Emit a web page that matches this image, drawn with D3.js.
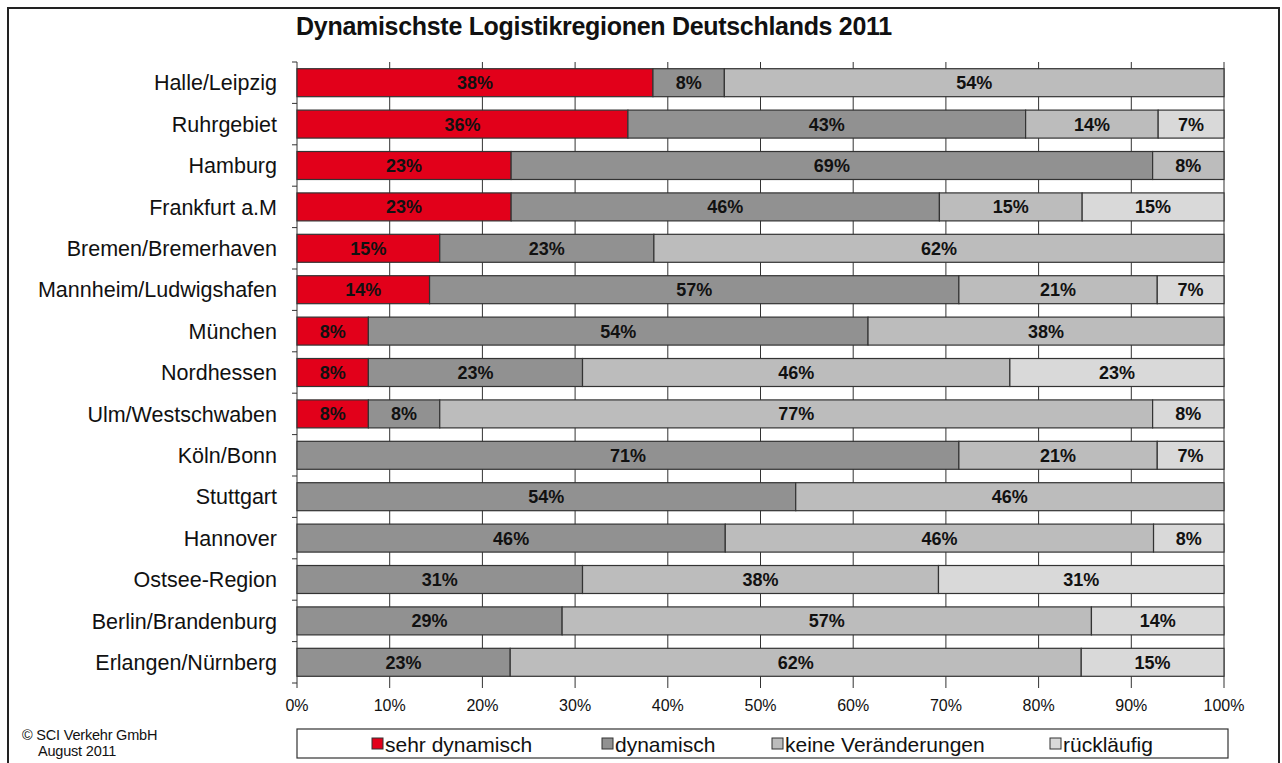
<!DOCTYPE html>
<html>
<head>
<meta charset="utf-8">
<script src="https://cdn.jsdelivr.net/npm/d3@7"></script>
<style>
  body { margin: 0; background: #fff; }
  text { font-family: "Liberation Sans", Arial, sans-serif; }
</style>
</head>
<body>
<div id="chart"></div>
<script>
var width = 1282;
var height = 763;

var regions = ["Halle/Leipzig", "Ruhrgebiet", "Hamburg", "Frankfurt a.M", "Bremen/Bremerhaven",
   "Mannheim/Ludwigshafen", "München", "Nordhessen", "Ulm/Westschwaben", "Köln/Bonn",
   "Stuttgart", "Hannover", "Ostsee-Region", "Berlin/Brandenburg", "Erlangen/Nürnberg"];

var series = ["sehr dynamisch", "dynamisch", "keine Veränderungen", "rückläufig"];

// share of answers in percent, one value per region
var sehrDynamisch = [38.4, 35.7, 23.1, 23.1, 15.4, 14.3, 7.7, 7.7, 7.7, 0, 0, 0, 0, 0, 0];
var dynamisch     = [7.7, 42.9, 69.2, 46.2, 23.1, 57.1, 53.9, 23.1, 7.7, 71.4, 53.8, 46.2, 30.8, 28.6, 23.0];
var keineVer      = [53.9, 14.3, 7.7, 15.4, 61.5, 21.4, 38.4, 46.1, 76.9, 21.4, 46.2, 46.2, 38.4, 57.1, 61.6];
var ruecklaeufig  = [0, 7.1, 0, 15.3, 0, 7.2, 0, 23.1, 7.7, 7.2, 0, 7.6, 30.8, 14.3, 15.4];

var xTicks = [0, 10, 20, 30, 40, 50, 60, 70, 80, 90, 100];
var colors = ["#e2001a", "#919191", "#bcbcbc", "#d9d9d9"];

var rows = regions.map(function(r, i) {
   var o = { region: r };
   o[series[0]] = sehrDynamisch[i];
   o[series[1]] = dynamisch[i];
   o[series[2]] = keineVer[i];
   o[series[3]] = ruecklaeufig[i];
   return o;
});

var svg = d3.select("#chart")
   .append("svg")
   .attr("width", width)
   .attr("height", height);

// outer frame
svg.append("rect")
   .attr("x", 8)
   .attr("y", 8)
   .attr("width", 1271)
   .attr("height", 800)
   .attr("fill", "none")
   .attr("stroke", "#222")
   .attr("stroke-width", 2);

svg.append("text")
   .attr("x", 594)
   .attr("y", 35)
   .attr("text-anchor", "middle")
   .attr("font-size", "25px")
   .attr("font-weight", "bold")
   .attr("letter-spacing", "-0.3px")
   .attr("fill", "#111")
   .text("Dynamischste Logistikregionen Deutschlands 2011");

var x = d3.scaleLinear()
   .domain([0, 100])
   .range([297, 1224]);

var y = d3.scaleBand()
   .domain(regions)
   .range([62, 683])
   .paddingInner(0.324)
   .paddingOuter(0.162);

// vertical grid lines (bars are drawn on top)
svg.append("g")
   .selectAll("line")
   .data(xTicks)
   .enter()
   .append("line")
   .attr("x1", function(d) { return x(d); })
   .attr("x2", function(d) { return x(d); })
   .attr("y1", 62)
   .attr("y2", 688)
   .attr("stroke", "#333")
   .attr("stroke-width", 1);

// category ticks on the left axis
svg.append("g")
   .selectAll("line")
   .data(d3.range(regions.length + 1))
   .enter()
   .append("line")
   .attr("x1", 292)
   .attr("x2", 297)
   .attr("y1", function(i) { return y.range()[0] + i * y.step(); })
   .attr("y2", function(i) { return y.range()[0] + i * y.step(); })
   .attr("stroke", "#333");

svg.append("g")
   .selectAll("text")
   .data(regions)
   .enter()
   .append("text")
   .attr("x", 277)
   .attr("y", function(d) { return y(d) + y.bandwidth() / 2; })
   .attr("dy", "0.36em")
   .attr("text-anchor", "end")
   .attr("font-size", "21.5px")
   .attr("fill", "#111")
   .text(function(d) { return d; });

svg.append("g")
   .selectAll("text")
   .data(xTicks)
   .enter()
   .append("text")
   .attr("x", function(d) { return x(d); })
   .attr("y", 711)
   .attr("text-anchor", "middle")
   .attr("font-size", "16px")
   .attr("fill", "#111")
   .text(function(d) { return d + "%"; });

var stacked = d3.stack().keys(series)(rows);

var layer = svg.selectAll("g.layer")
   .data(stacked)
   .enter()
   .append("g")
   .attr("class", "layer")
   .attr("fill", function(d, i) { return colors[i]; });

function segments(d) {
   return d.filter(function(p) { return p.data[d.key] > 0; })
      .map(function(p) { p.key = d.key; return p; });
}

layer.selectAll("rect")
   .data(segments)
   .enter()
   .append("rect")
   .attr("x", function(d) { return x(d[0]); })
   .attr("y", function(d) { return y(d.data.region); })
   .attr("width", function(d) { return x(d[1]) - x(d[0]); })
   .attr("height", y.bandwidth())
   .attr("stroke", "#333")
   .attr("stroke-width", 1.2);

layer.selectAll("text")
   .data(segments)
   .enter()
   .append("text")
   .attr("x", function(d) { return x((d[0] + d[1]) / 2); })
   .attr("y", function(d) { return y(d.data.region) + y.bandwidth() / 2; })
   .attr("dy", "0.36em")
   .attr("text-anchor", "middle")
   .attr("font-size", "18px")
   .attr("font-weight", "bold")
   .attr("fill", "#111")
   .text(function(d) { return Math.round(d.data[d.key]) + "%"; });

// legend
var legend = svg.append("g");
legend.append("rect")
   .attr("x", 297)
   .attr("y", 729)
   .attr("width", 931)
   .attr("height", 29)
   .attr("fill", "#fff")
   .attr("stroke", "#333")
   .attr("stroke-width", 1.2);

var legendX = [385, 615, 785, 1063];

var item = legend.selectAll("g")
   .data(series)
   .enter()
   .append("g")
   .attr("transform", function(d, i) { return "translate(" + legendX[i] + ",744)"; });

item.append("rect")
   .attr("x", -13)
   .attr("y", -6)
   .attr("width", 11)
   .attr("height", 11)
   .attr("fill", function(d, i) { return colors[i]; })
   .attr("stroke", "#333");

item.append("text")
   .attr("x", 0)
   .attr("y", 0)
   .attr("dy", "0.36em")
   .attr("font-size", "21px")
   .attr("fill", "#111")
   .text(function(d) { return d; });

svg.append("text")
   .attr("x", 22)
   .attr("y", 740)
   .attr("font-size", "14.5px")
   .attr("letter-spacing", "-0.2px")
   .attr("fill", "#111")
   .text("© SCI Verkehr GmbH");

svg.append("text")
   .attr("x", 38)
   .attr("y", 756)
   .attr("font-size", "14.5px")
   .attr("letter-spacing", "-0.2px")
   .attr("fill", "#111")
   .text("August 2011");
</script>
</body>
</html>
